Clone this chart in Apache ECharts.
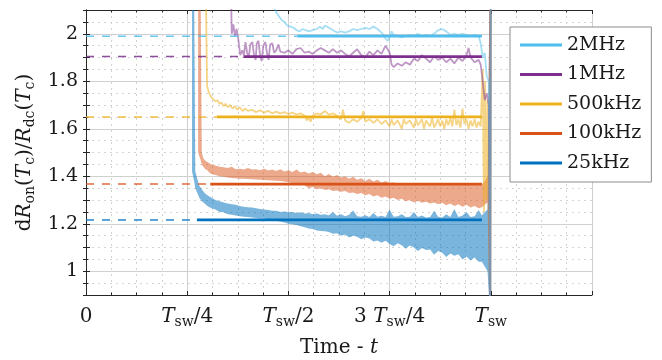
<!DOCTYPE html>
<html>
<head>
<meta charset="utf-8">
<script src="https://cdn.jsdelivr.net/npm/echarts@6/dist/echarts.min.js"></script>
<style>
  html, body { margin: 0; padding: 0; background: #fff; }
  #chart { width: 662px; height: 360px; }
</style>
</head>
<body>
<div id="chart"></div>
<script>
const FONT = 'DejaVu Serif'
const TXT = '#1a1a1a'

const freqs = ['2MHz', '1MHz', '500kHz', '100kHz', '25kHz']
const colors = ['#4dbeee', '#7e2f8e', '#edb120', '#d95319', '#0072bd']
const traceColors = ['rgba(77,190,238,0.5)', 'rgba(126,47,142,0.5)', 'rgba(237,177,32,0.55)', 'rgba(217,83,25,0.5)', 'rgba(0,114,189,0.52)']

// averaged dRon level per frequency and the window it is averaged over
const levels = [1.99, 1.904, 1.65, 1.367, 1.216]
const avgStart = [0.522, 0.389, 0.323, 0.307, 0.274]
const avgEnd = 0.978

const xTickVals = [0, 0.25, 0.5, 0.75, 1, 1.25]
const xTickLabels = ['{n|0}', '{i|T}{s|sw}{n|/4}', '{i|T}{s|sw}{n|/2}', '{n|3 }{i|T}{s|sw}{n|/4}', '{i|T}{s|sw}', '']
const yTickLabels = [1, 1.2, 1.4, 1.6, 1.8, 2]

// 2MHz measured trace
const x2M = [0.458, 0.463, 0.47, 0.478, 0.485, 0.49, 0.497, 0.505, 0.513, 0.52, 0.528, 0.535, 0.543, 0.55, 0.56, 0.57, 0.578, 0.585, 0.59, 0.6, 0.61, 0.62, 0.63, 0.64, 0.65, 0.66, 0.67, 0.68, 0.69, 0.7, 0.71, 0.72, 0.73, 0.74, 0.745, 0.75, 0.755, 0.76, 0.77, 0.78, 0.79, 0.8, 0.81, 0.82, 0.83, 0.84, 0.85, 0.86, 0.87, 0.88, 0.89, 0.9, 0.91, 0.92, 0.93, 0.94, 0.95, 0.96, 0.97, 0.975, 0.98, 0.985, 0.99, 0.995, 0.998, 1.0]
const y2M = [2.2, 2.12, 2.09, 2.07, 2.055, 2.05, 2.035, 2.03, 2.025, 2.015, 2.01, 2.02, 2.015, 2.01, 2.015, 2.02, 2.03, 2.02, 2.035, 2.025, 2.015, 2.005, 2.01, 2.005, 2.01, 2.02, 2.015, 2.02, 2.025, 2.02, 2.03, 2.02, 2.005, 1.98, 1.97, 1.985, 2.01, 1.995, 1.99, 1.985, 1.99, 1.995, 1.99, 2.0, 1.99, 1.995, 1.99, 2.0, 2.015, 2.02, 2.01, 1.995, 2.0, 1.995, 2.0, 1.995, 1.99, 1.995, 1.99, 1.96, 1.9, 1.92, 1.82, 1.8, 0.85, 2.2]

// 1MHz measured trace
const x1M = [0.358, 0.36, 0.364, 0.368, 0.372, 0.376, 0.381, 0.386, 0.39, 0.394, 0.398, 0.402, 0.406, 0.411, 0.415, 0.419, 0.422, 0.426, 0.43, 0.434, 0.438, 0.443, 0.447, 0.451, 0.455, 0.46, 0.465, 0.47, 0.475, 0.48, 0.49, 0.5, 0.51, 0.52, 0.53, 0.54, 0.55, 0.56, 0.57, 0.58, 0.59, 0.6, 0.61, 0.62, 0.63, 0.64, 0.65, 0.66, 0.67, 0.68, 0.69, 0.7, 0.71, 0.72, 0.73, 0.74, 0.75, 0.755, 0.76, 0.77, 0.78, 0.79, 0.8, 0.81, 0.82, 0.83, 0.84, 0.85, 0.86, 0.87, 0.88, 0.89, 0.9, 0.91, 0.92, 0.93, 0.94, 0.945, 0.95, 0.96, 0.97, 0.975, 0.98, 0.985, 0.99, 0.995, 0.998, 1.0]
const y1M = [2.2, 2.0, 2.04, 1.99, 2.02, 1.98, 1.91, 1.93, 1.91, 1.965, 1.92, 1.9, 1.955, 1.965, 1.91, 1.89, 1.96, 1.97, 1.91, 1.885, 1.95, 1.965, 1.92, 1.89, 1.955, 1.96, 1.92, 1.93, 1.955, 1.925, 1.92, 1.93, 1.915, 1.935, 1.94, 1.92, 1.925, 1.915, 1.93, 1.94, 1.93, 1.92, 1.935, 1.92, 1.93, 1.915, 1.905, 1.92, 1.935, 1.91, 1.9, 1.925, 1.91, 1.93, 1.915, 1.95, 1.92, 1.87, 1.86, 1.875, 1.865, 1.88, 1.87, 1.895, 1.885, 1.91, 1.895, 1.88, 1.905, 1.89, 1.9, 1.88, 1.895, 1.875, 1.9, 1.885, 1.91, 1.94, 1.9, 1.88, 1.89, 1.87, 1.8, 1.72, 1.75, 1.7, 0.85, 2.2]

// 500kHz measured trace
const x500k = [0.296, 0.299, 0.303, 0.307, 0.311, 0.315, 0.32, 0.325, 0.33, 0.335, 0.34, 0.345, 0.35, 0.356, 0.362, 0.368, 0.374, 0.38, 0.387, 0.394, 0.4, 0.41, 0.42, 0.43, 0.44, 0.45, 0.46, 0.47, 0.48, 0.49, 0.5, 0.51, 0.52, 0.53, 0.54, 0.545, 0.55, 0.555, 0.56, 0.57, 0.58, 0.59, 0.6, 0.61, 0.62, 0.63, 0.635, 0.64, 0.65, 0.66, 0.67, 0.68, 0.685, 0.69, 0.7, 0.71, 0.72, 0.73, 0.74, 0.75, 0.755, 0.76, 0.77, 0.78, 0.785, 0.79, 0.8, 0.81, 0.815, 0.82, 0.83, 0.835, 0.84, 0.85, 0.855, 0.86, 0.87, 0.875, 0.88, 0.885, 0.89, 0.895, 0.9, 0.905, 0.91, 0.915, 0.92, 0.925, 0.93, 0.935, 0.94, 0.945, 0.95, 0.955, 0.96, 0.965, 0.97, 0.975, 0.98, 0.983, 0.986, 0.989, 0.992, 0.995, 0.998, 1.0]
const y500k = [2.2, 1.78, 1.755, 1.74, 1.73, 1.735, 1.715, 1.72, 1.705, 1.71, 1.695, 1.705, 1.69, 1.7, 1.685, 1.695, 1.68, 1.69, 1.675, 1.685, 1.675, 1.68, 1.67, 1.678, 1.668, 1.675, 1.665, 1.672, 1.665, 1.67, 1.662, 1.668, 1.66, 1.665, 1.655, 1.635, 1.645, 1.63, 1.655, 1.665, 1.66, 1.675, 1.66, 1.665, 1.655, 1.64, 1.68, 1.635, 1.625, 1.64, 1.63, 1.645, 1.675, 1.63, 1.64, 1.625, 1.64, 1.62, 1.635, 1.61, 1.64, 1.615, 1.635, 1.6, 1.64, 1.62, 1.635, 1.605, 1.64, 1.615, 1.64, 1.6, 1.635, 1.61, 1.645, 1.605, 1.64, 1.61, 1.635, 1.6, 1.64, 1.615, 1.645, 1.61, 1.68, 1.615, 1.64, 1.605, 1.685, 1.62, 1.64, 1.6, 1.635, 1.61, 1.64, 1.605, 1.63, 1.61, 1.85, 1.25, 1.8, 1.3, 1.72, 1.35, 0.85, 2.2]

// 100kHz measured trace, drawn as its noise band (lower / upper edge)
const x100k = [0.277, 0.283, 0.286, 0.29, 0.295, 0.3, 0.305, 0.31, 0.32, 0.33, 0.34, 0.35, 0.36, 0.37, 0.38, 0.39, 0.4, 0.41, 0.42, 0.43, 0.44, 0.45, 0.46, 0.47, 0.48, 0.49, 0.5, 0.51, 0.52, 0.53, 0.54, 0.55, 0.56, 0.57, 0.58, 0.59, 0.6, 0.61, 0.62, 0.63, 0.64, 0.65, 0.66, 0.67, 0.68, 0.69, 0.7, 0.71, 0.72, 0.73, 0.74, 0.75, 0.76, 0.77, 0.78, 0.79, 0.8, 0.81, 0.82, 0.83, 0.84, 0.85, 0.86, 0.87, 0.88, 0.89, 0.9, 0.91, 0.92, 0.93, 0.94, 0.95, 0.96, 0.97, 0.978, 0.985, 0.992, 0.997, 1.0]
const lo100k = [1.5, 1.47, 1.45, 1.44, 1.43, 1.425, 1.415, 1.41, 1.405, 1.4, 1.398, 1.395, 1.393, 1.392, 1.39, 1.39, 1.388, 1.387, 1.386, 1.385, 1.384, 1.383, 1.382, 1.381, 1.38, 1.378, 1.375, 1.372, 1.37, 1.365, 1.362, 1.35, 1.355, 1.345, 1.35, 1.342, 1.345, 1.338, 1.34, 1.335, 1.338, 1.33, 1.332, 1.325, 1.33, 1.32, 1.325, 1.315, 1.32, 1.31, 1.315, 1.305, 1.31, 1.3, 1.305, 1.295, 1.3, 1.29, 1.297, 1.288, 1.293, 1.285, 1.29, 1.282, 1.288, 1.278, 1.285, 1.275, 1.282, 1.272, 1.28, 1.268, 1.275, 1.265, 1.27, 1.28, 1.29, 0.85, 0.85]
const hi100k = [2.2, 2.2, 1.5, 1.475, 1.465, 1.46, 1.455, 1.45, 1.445, 1.44, 1.438, 1.435, 1.44, 1.43, 1.432, 1.428, 1.435, 1.428, 1.43, 1.425, 1.432, 1.424, 1.428, 1.422, 1.43, 1.42, 1.425, 1.418, 1.428, 1.416, 1.42, 1.412, 1.418, 1.408, 1.415, 1.4, 1.41, 1.398, 1.405, 1.395, 1.4, 1.39, 1.398, 1.385, 1.392, 1.38, 1.39, 1.378, 1.385, 1.374, 1.38, 1.372, 1.375, 1.368, 1.372, 1.366, 1.37, 1.364, 1.368, 1.362, 1.368, 1.362, 1.368, 1.362, 1.368, 1.362, 1.368, 1.362, 1.368, 1.362, 1.368, 1.362, 1.368, 1.362, 1.365, 1.38, 1.4, 2.2, 2.2]

// 25kHz measured trace, drawn as its noise band (lower / upper edge)
const x25k = [0.262, 0.267, 0.27, 0.275, 0.28, 0.286, 0.293, 0.3, 0.31, 0.32, 0.33, 0.34, 0.35, 0.36, 0.37, 0.38, 0.39, 0.4, 0.41, 0.42, 0.43, 0.44, 0.45, 0.46, 0.47, 0.48, 0.49, 0.5, 0.51, 0.52, 0.53, 0.54, 0.55, 0.56, 0.57, 0.58, 0.59, 0.6, 0.61, 0.62, 0.63, 0.64, 0.65, 0.66, 0.67, 0.68, 0.69, 0.7, 0.71, 0.72, 0.73, 0.74, 0.75, 0.76, 0.77, 0.78, 0.79, 0.8, 0.81, 0.82, 0.83, 0.84, 0.85, 0.86, 0.87, 0.88, 0.89, 0.9, 0.91, 0.92, 0.93, 0.94, 0.95, 0.96, 0.97, 0.978, 0.985, 0.992, 0.997, 1.0]
const lo25k = [1.42, 1.38, 1.35, 1.33, 1.31, 1.295, 1.285, 1.275, 1.265, 1.26, 1.25, 1.248, 1.24, 1.238, 1.235, 1.232, 1.23, 1.228, 1.226, 1.224, 1.222, 1.222, 1.218, 1.215, 1.212, 1.21, 1.205, 1.2, 1.198, 1.195, 1.19, 1.185, 1.18, 1.178, 1.172, 1.17, 1.168, 1.165, 1.158, 1.16, 1.15, 1.155, 1.142, 1.15, 1.145, 1.135, 1.142, 1.138, 1.125, 1.13, 1.12, 1.128, 1.115, 1.105, 1.118, 1.11, 1.095, 1.108, 1.1, 1.085, 1.098, 1.09, 1.092, 1.07, 1.085, 1.078, 1.06, 1.075, 1.065, 1.072, 1.05, 1.062, 1.045, 1.058, 1.04, 1.04, 1.02, 1.0, 0.85, 0.85]
const hi25k = [2.2, 2.2, 1.42, 1.39, 1.36, 1.345, 1.33, 1.32, 1.31, 1.3, 1.295, 1.29, 1.285, 1.282, 1.28, 1.275, 1.272, 1.27, 1.268, 1.265, 1.262, 1.26, 1.258, 1.255, 1.255, 1.25, 1.252, 1.248, 1.25, 1.245, 1.248, 1.243, 1.245, 1.24, 1.243, 1.238, 1.24, 1.236, 1.25, 1.234, 1.24, 1.232, 1.238, 1.256, 1.232, 1.23, 1.236, 1.228, 1.245, 1.23, 1.234, 1.228, 1.26, 1.23, 1.232, 1.24, 1.228, 1.23, 1.25, 1.228, 1.235, 1.226, 1.228, 1.255, 1.23, 1.226, 1.24, 1.228, 1.262, 1.228, 1.235, 1.25, 1.228, 1.232, 1.258, 1.235, 1.25, 1.26, 2.2, 2.2]

const chart = echarts.init(document.getElementById('chart'))

const zip = (xs, ys) => xs.map((x, i) => [x, ys[i]])

const traceLine = (xs, ys, color) => ({
  type: 'line', data: zip(xs, ys), showSymbol: false, silent: true, z: 2,
  lineStyle: { color, width: 1.8 }
})

const bandSeries = (xs, lo, hi, color) => ({
  type: 'custom', coordinateSystem: 'cartesian2d', silent: true, clip: true, z: 2,
  data: [[xs[0], lo[0]]],
  renderItem: (params, api) => {
    const top = xs.map((x, i) => api.coord([x, hi[i]]))
    const bottom = xs.map((x, i) => api.coord([x, lo[i]])).reverse()
    return {
      type: 'polygon',
      shape: { points: top.concat(bottom) },
      style: { fill: color }
    }
  }
})

const rich = {
  n: { fontFamily: FONT, fontSize: 20, lineHeight: 25, color: TXT },
  i: { fontFamily: FONT, fontSize: 20, lineHeight: 25, fontStyle: 'italic', color: TXT },
  s: { fontFamily: FONT, fontSize: 14, lineHeight: 14, verticalAlign: 'bottom', color: TXT }
}

const series = [
  bandSeries(x25k, lo25k, hi25k, traceColors[4]),
  bandSeries(x100k, lo100k, hi100k, traceColors[3]),
  traceLine(x500k, y500k, traceColors[2]),
  traceLine(x1M, y1M, traceColors[1]),
  traceLine(x2M, y2M, traceColors[0])
]

// dashed extension of each level back to t = 0
freqs.forEach((f, k) => {
  series.push({
    type: 'line', name: f + ' ext', data: [[0, levels[k]], [avgStart[k], levels[k]]],
    showSymbol: false, silent: true, z: 3,
    lineStyle: { color: colors[k], width: 1.5, type: [8, 8], opacity: 0.85 }
  })
})

// averaged value (solid)
freqs.forEach((f, k) => {
  series.push({
    type: 'line', name: f, data: [[avgStart[k], levels[k]], [avgEnd, levels[k]]],
    showSymbol: false, silent: true, z: 4,
    lineStyle: { color: colors[k], width: 2.8 }, itemStyle: { color: colors[k] }
  })
})

const option = {
  animation: false,
  grid: { left: 86, right: 70, top: 10, bottom: 65, outerBoundsMode: 'none' },
  legend: {
    data: freqs,
    orient: 'vertical',
    left: 510, top: 27,
    padding: [7, 10, 8, 10],
    itemGap: 7.5,
    itemWidth: 42, itemHeight: 3,
    icon: 'rect',
    backgroundColor: '#fff',
    borderColor: '#8c8c8c', borderWidth: 1,
    textStyle: { fontFamily: FONT, fontSize: 19, color: TXT, lineHeight: 22 }
  },
  xAxis: [{
    type: 'value', min: 0, max: 1.25, interval: 0.25,
    name: '{n|Time - }{i|t}', nameLocation: 'middle', nameGap: 40,
    nameTextStyle: { rich },
    axisLine: { lineStyle: { color: '#262626' } },
    axisTick: { inside: true, length: 4, lineStyle: { color: '#262626' } },
    minorTick: { show: true, splitNumber: 4, length: 2.5, lineStyle: { color: '#262626' } },
    axisLabel: {
      margin: 9,
      formatter: v => xTickLabels[xTickVals.findIndex(t => Math.abs(t - v) < 1e-6)] || '',
      rich
    },
    splitLine: { show: true, lineStyle: { color: '#cfcfcf', width: 1 } },
    minorSplitLine: { show: true, lineStyle: { color: '#d2d2d2', type: [2, 4] } }
  }, {
    type: 'value', position: 'top', min: 0, max: 1.25, interval: 0.25,
    axisLine: { lineStyle: { color: '#262626' } },
    axisTick: { inside: true, length: 4, lineStyle: { color: '#262626' } },
    minorTick: { show: true, splitNumber: 4, length: 2.5, lineStyle: { color: '#262626' } },
    axisLabel: { show: false },
    splitLine: { show: false }
  }],
  yAxis: [{
    type: 'value', min: 0.9, max: 2.1, interval: 0.1,
    name: '{n|d}{i|R}{s|on}{n|(}{i|T}{s|c}{n|)/}{i|R}{s|dc}{n|(}{i|T}{s|c}{n|)}',
    nameLocation: 'middle', nameGap: 34,
    nameTextStyle: { rich },
    axisLine: { lineStyle: { color: '#262626' } },
    axisTick: { inside: true, length: 4, lineStyle: { color: '#262626' } },
    minorTick: { show: true, splitNumber: 2, length: 2.5, lineStyle: { color: '#262626' } },
    axisLabel: {
      margin: 8, fontFamily: FONT, fontSize: 19, color: TXT,
      formatter: v => {
        const hit = yTickLabels.find(t => Math.abs(t - v) < 1e-6)
        return hit === undefined ? '' : String(hit)
      }
    },
    // solid grid only at the labelled values (every other 0.1 line)
    splitLine: { show: true, lineStyle: { color: ['rgba(0,0,0,0)', '#cfcfcf'], width: 1 } }
  }, {
    type: 'value', position: 'right', min: 0.9, max: 2.1, interval: 0.05,
    axisLine: { show: true, lineStyle: { color: '#262626' } },
    axisTick: { inside: true, length: 3, lineStyle: { color: '#262626' } },
    axisLabel: { show: false },
    splitLine: { show: true, lineStyle: { color: '#d2d2d2', type: [2, 4] } }
  }],
  series
}

chart.setOption(option)
</script>
</body>
</html>
